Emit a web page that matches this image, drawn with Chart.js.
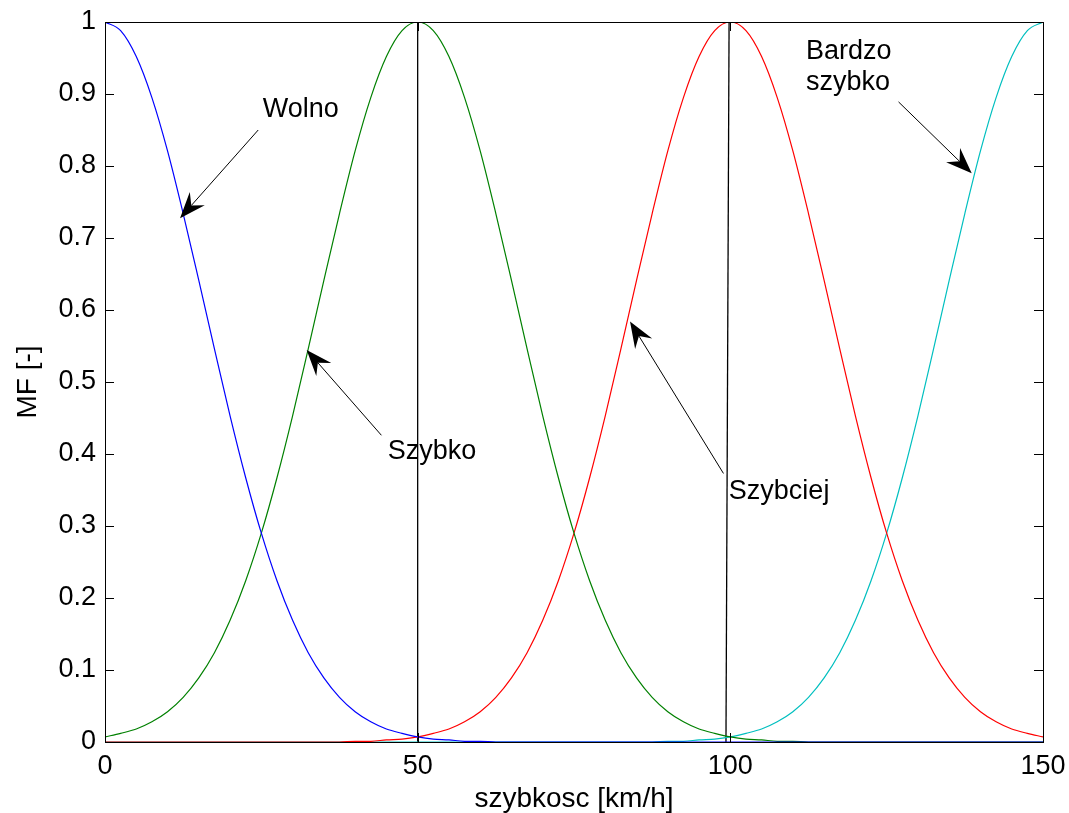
<!DOCTYPE html>
<html>
  <head>
    <meta charset="utf-8" />
    <script src="https://cdn.jsdelivr.net/npm/chart.js@4"></script>
    <style>
      body { margin: 0; background: #fff; }
    </style>
  </head>

  <body>
    <canvas id="canvas" width="1069" height="813"></canvas>
    <script>
      // speed in km/h, read every 2.5
      const speed = [
        0, 2.5, 5, 7.5, 10, 12.5, 15, 17.5, 20, 22.5, 25, 27.5, 30, 32.5, 35, 37.5, 40, 42.5, 45, 47.5,
        50, 52.5, 55, 57.5, 60, 62.5, 65, 67.5, 70, 72.5, 75, 77.5, 80, 82.5, 85, 87.5, 90, 92.5, 95, 97.5,
        100, 102.5, 105, 107.5, 110, 112.5, 115, 117.5, 120, 122.5, 125, 127.5, 130, 132.5, 135, 137.5,
        140, 142.5, 145, 147.5, 150
      ];
      const wolno = [
        1, 0.988, 0.952, 0.895, 0.821, 0.734, 0.641, 0.546, 0.453, 0.367, 0.29, 0.224, 0.169, 0.124, 0.089,
        0.062, 0.042, 0.028, 0.018, 0.012, 0.007, 0.004, 0.003, 0.001, 0.001,
        0, 0, 0, 0, 0, 0, 0, 0, 0, 0, 0, 0, 0, 0, 0, 0, 0, 0, 0, 0, 0, 0, 0, 0, 0, 0, 0, 0, 0, 0, 0, 0, 0, 0, 0, 0
      ];
      const szybko = [
        0.007, 0.012, 0.018, 0.028, 0.042, 0.062, 0.089, 0.124, 0.169, 0.224, 0.29, 0.367, 0.453, 0.546, 0.641,
        0.734, 0.821, 0.895, 0.952, 0.988, 1, 0.988, 0.952, 0.895, 0.821, 0.734, 0.641, 0.546, 0.453, 0.367,
        0.29, 0.224, 0.169, 0.124, 0.089, 0.062, 0.042, 0.028, 0.018, 0.012, 0.007, 0.004, 0.003, 0.001, 0.001,
        0, 0, 0, 0, 0, 0, 0, 0, 0, 0, 0, 0, 0, 0, 0, 0
      ];
      const szybciej = [
        0, 0, 0, 0, 0, 0, 0, 0, 0, 0, 0, 0, 0, 0, 0, 0,
        0.001, 0.001, 0.003, 0.004, 0.007, 0.012, 0.018, 0.028, 0.042, 0.062, 0.089, 0.124, 0.169, 0.224,
        0.29, 0.367, 0.453, 0.546, 0.641, 0.734, 0.821, 0.895, 0.952, 0.988, 1, 0.988, 0.952, 0.895, 0.821,
        0.734, 0.641, 0.546, 0.453, 0.367, 0.29, 0.224, 0.169, 0.124, 0.089, 0.062, 0.042, 0.028, 0.018,
        0.012, 0.007
      ];
      const bardzoSzybko = [
        0, 0, 0, 0, 0, 0, 0, 0, 0, 0, 0, 0, 0, 0, 0, 0, 0, 0, 0, 0, 0, 0, 0, 0, 0, 0, 0, 0, 0, 0, 0, 0, 0, 0, 0, 0,
        0.001, 0.001, 0.003, 0.004, 0.007, 0.012, 0.018, 0.028, 0.042, 0.062, 0.089, 0.124, 0.169, 0.224,
        0.29, 0.367, 0.453, 0.546, 0.641, 0.734, 0.821, 0.895, 0.952, 0.988, 1
      ];
      // the two black vertical marker lines (x at bottom, x at top)
      const markerX = [[50, 50], [99.3, 99.8]];
      const xTicks = [0, 50, 100, 150];
      const yTicks = [0, 0.1, 0.2, 0.3, 0.4, 0.5, 0.6, 0.7, 0.8, 0.9, 1];

      const notes = [
        { lines: ['Wolno'], at: [31.3, 0.878], align: 'center', from: [24.5, 0.85], to: [12.0, 0.7275] },
        { lines: ['Szybko'], at: [52.3, 0.404], align: 'center', from: [44.2, 0.426], to: [32.25, 0.5445] },
        { lines: ['Szybciej'], at: [107.8, 0.348], align: 'center', from: [98.9, 0.373], to: [83.96, 0.584] },
        { lines: ['Bardzo', 'szybko'], at: [112.1, 0.959], align: 'left', from: [126.9, 0.889], to: [138.6, 0.79] }
      ];

      const FONT = "'Liberation Sans', Arial, sans-serif";
      Chart.defaults.font.family = FONT;
      Chart.defaults.color = '#000';

      const curve = (ys, color) => ({
        data: speed.map((x, i) => ({ x: x, y: ys[i] })),
        borderColor: color,
        borderWidth: 1.2,
        pointRadius: 0,
        cubicInterpolationMode: 'monotone',
        fill: false
      });
      const marker = (xs) => ({
        data: [{ x: xs[0], y: 0 }, { x: xs[1], y: 1 }],
        borderColor: '#000',
        borderWidth: 1.3,
        pointRadius: 0,
        fill: false
      });

      function arrow(ctx, x1, y1, x2, y2) {
        const a = Math.atan2(y2 - y1, x2 - x1);
        const L = 26, W = 10, N = 17;
        ctx.beginPath();
        ctx.moveTo(x1, y1);
        ctx.lineTo(x2 - Math.cos(a) * N, y2 - Math.sin(a) * N);
        ctx.stroke();
        ctx.save();
        ctx.translate(x2, y2);
        ctx.rotate(a);
        ctx.beginPath();
        ctx.moveTo(0, 0);
        ctx.lineTo(-L, -W);
        ctx.lineTo(-N, 0);
        ctx.lineTo(-L, W);
        ctx.closePath();
        ctx.fill();
        ctx.restore();
      }

      const matlabAxes = {
        id: 'matlabAxes',
        afterDraw(chart) {
          const { ctx, chartArea: a, scales: { x, y } } = chart;
          ctx.save();
          ctx.strokeStyle = '#000';
          ctx.fillStyle = '#000';
          ctx.lineWidth = 1;
          ctx.strokeRect(a.left + 0.5, a.top + 0.5, a.right - a.left, a.bottom - a.top);
          ctx.beginPath();
          const t = 9;
          yTicks.forEach((v) => {
            const py = Math.round(y.getPixelForValue(v)) + 0.5;
            ctx.moveTo(a.left, py); ctx.lineTo(a.left + t, py);
            ctx.moveTo(a.right, py); ctx.lineTo(a.right - t, py);
          });
          xTicks.forEach((v) => {
            const px = Math.round(x.getPixelForValue(v)) + 0.5;
            ctx.moveTo(px, a.bottom); ctx.lineTo(px, a.bottom - t);
            ctx.moveTo(px, a.top); ctx.lineTo(px, a.top + t);
          });
          ctx.stroke();

          // annotations
          ctx.font = '27px ' + FONT;
          ctx.textBaseline = 'middle';
          notes.forEach((n) => {
            ctx.textAlign = n.align;
            const tx = x.getPixelForValue(n.at[0]);
            const ty = y.getPixelForValue(n.at[1]);
            n.lines.forEach((s, i) => ctx.fillText(s, tx, ty + i * 31));
            ctx.lineWidth = 1;
            arrow(ctx,
              x.getPixelForValue(n.from[0]), y.getPixelForValue(n.from[1]),
              x.getPixelForValue(n.to[0]), y.getPixelForValue(n.to[1]));
          });
          ctx.restore();
        }
      };

      new Chart(document.getElementById('canvas').getContext('2d'), {
        type: 'line',
        data: {
          datasets: [
            curve(wolno, '#0000ff'),
            curve(szybko, '#008000'),
            curve(szybciej, '#ff0000'),
            curve(bardzoSzybko, '#00bfbf'),
            marker(markerX[0]),
            marker(markerX[1])
          ]
        },
        options: {
          responsive: false,
          animation: false,
          devicePixelRatio: 1,
          layout: { padding: { top: 22, right: 26, left: 0, bottom: 0 } },
          plugins: { legend: { display: false }, tooltip: { enabled: false } },
          elements: { line: { tension: 0 } },
          scales: {
            x: {
              type: 'linear',
              min: 0,
              max: 150,
              afterBuildTicks: (s) => { s.ticks = xTicks.map((v) => ({ value: v })); },
              afterFit: (s) => { s.height = 71; s.paddingLeft = 0; s.paddingRight = 0; },
              grid: { display: false, drawTicks: false },
              border: { display: false },
              ticks: { font: { size: 27 }, padding: 8, maxRotation: 0, callback: (v) => String(v) },
              title: { display: true, text: 'szybkosc [km/h]', font: { size: 28, lineHeight: 1 }, padding: { top: 0, bottom: 0 } }
            },
            y: {
              min: 0,
              max: 1,
              afterBuildTicks: (s) => { s.ticks = yTicks.map((v) => ({ value: v })); },
              afterFit: (s) => { s.width = 105; s.paddingTop = 0; s.paddingBottom = 0; },
              grid: { display: false, drawTicks: false },
              border: { display: false },
              ticks: { font: { size: 27 }, padding: 9, callback: (v) => String(v) },
              title: { display: true, text: 'MF [-]', font: { size: 28, lineHeight: 1 }, padding: { top: 14, bottom: 0 } }
            }
          }
        },
        plugins: [matlabAxes]
      });
    </script>
  </body>
</html>
